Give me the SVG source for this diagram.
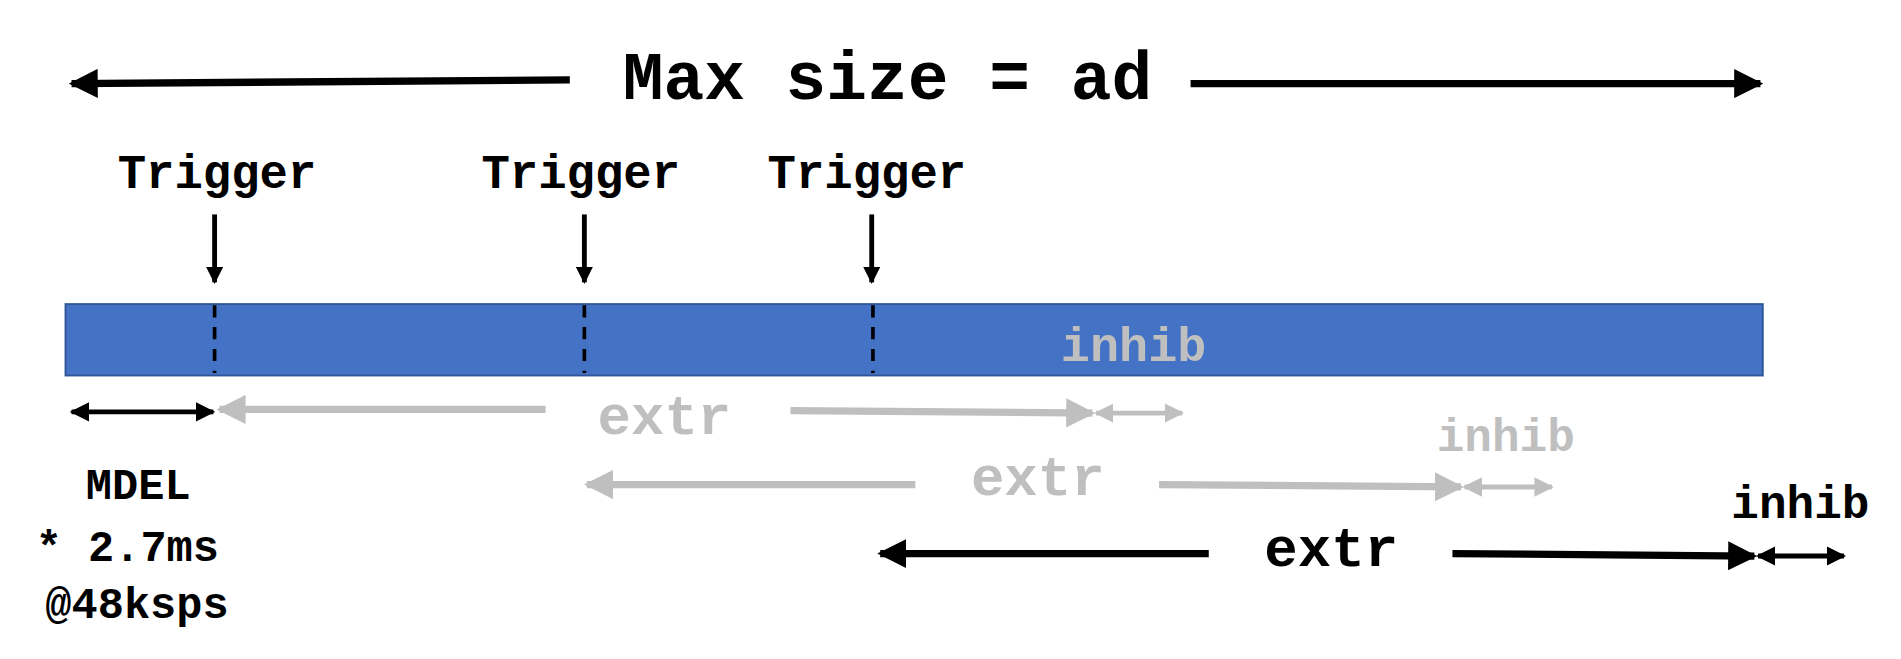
<svg xmlns="http://www.w3.org/2000/svg" width="1901" height="659" viewBox="0 0 1901 659">
<style>
.t{font-family:"Liberation Mono","DejaVu Sans Mono",monospace;font-weight:bold;text-anchor:middle}
.k{stroke:#000;fill:none}
.g{stroke:#bfbfbf;fill:none}
</style>
<defs>
<marker id="ak" viewBox="0 0 10 10" refX="9" refY="5" markerWidth="4" markerHeight="4" orient="auto-start-reverse" markerUnits="strokeWidth"><path d="M0,0L10,5L0,10z" fill="#000"/></marker>
<marker id="ag" viewBox="0 0 10 10" refX="9" refY="5" markerWidth="4" markerHeight="4" orient="auto-start-reverse" markerUnits="strokeWidth"><path d="M0,0L10,5L0,10z" fill="#bfbfbf"/></marker>
<marker id="at" viewBox="0 0 10 10" refX="9" refY="5" markerWidth="3.5" markerHeight="3.5" orient="auto" markerUnits="strokeWidth"><path d="M0,0L10,5L0,10z" fill="#000"/></marker>
</defs>
<rect width="1901" height="659" fill="#fff"/>
<g transform="scale(1.2124,1.2114)">
<g id="bar">
<rect x="54" y="251" width="1400" height="59" fill="#4472c4" stroke="#2f5597" stroke-width="1.5"/>
<path d="M177,252V308M482,252V308M720,252V308" stroke="#000" stroke-width="3" stroke-dasharray="10,8"/>
<text class="t" x="935" y="298" font-size="40" fill="#bfbfbf">inhib</text>
</g>
<g id="title"><text class="t" x="732" y="82" font-size="56">Max size = ad</text></g>
<g id="triggers">
<text class="t" x="179" y="155" font-size="39">Trigger</text>
<text class="t" x="479" y="155" font-size="39">Trigger</text>
<text class="t" x="715" y="155" font-size="39">Trigger</text>
</g>
<g id="labels">
<text class="t" x="548" y="358" font-size="46" fill="#bfbfbf">extr</text>
<text class="t" x="1242" y="372" font-size="38" fill="#bfbfbf">inhib</text>
<text class="t" x="856" y="409" font-size="46" fill="#bfbfbf">extr</text>
<text class="t" x="1485" y="428" font-size="38">inhib</text>
<text class="t" x="1098" y="467" font-size="46">extr</text>
<text class="t" x="114" y="412" font-size="36">MDEL</text>
<text class="t" x="105" y="463" font-size="36">* 2.7ms</text>
<text class="t" x="113" y="510" font-size="36">@48ksps</text>
</g>
<g id="connectors">
<path class="k" stroke-width="6" d="M470,66L59,69" marker-end="url(#ak)"/>
<path class="k" stroke-width="6" d="M982,69H1452" marker-end="url(#ak)"/>
<path class="k" stroke-width="4" d="M177,177V233" marker-end="url(#at)"/>
<path class="k" stroke-width="4" d="M482,177V233" marker-end="url(#at)"/>
<path class="k" stroke-width="4" d="M719,177V233" marker-end="url(#at)"/>
<path class="k" stroke-width="4" d="M59,340H176" marker-start="url(#ak)" marker-end="url(#ak)"/>
<path class="g" stroke-width="6" d="M450,338H181" marker-end="url(#ag)"/>
<path class="g" stroke-width="6" d="M652,339L901,341" marker-end="url(#ag)"/>
<path class="g" stroke-width="4" d="M904,341H975" marker-start="url(#ag)" marker-end="url(#ag)"/>
<path class="g" stroke-width="6" d="M755,400H484" marker-end="url(#ag)"/>
<path class="g" stroke-width="6" d="M956,400L1205,402" marker-end="url(#ag)"/>
<path class="g" stroke-width="4" d="M1208,402H1280" marker-start="url(#ag)" marker-end="url(#ag)"/>
<path class="k" stroke-width="6" d="M997,457H726" marker-end="url(#ak)"/>
<path class="k" stroke-width="6" d="M1198,457L1447,459" marker-end="url(#ak)"/>
<path class="k" stroke-width="4" d="M1450,459H1521" marker-start="url(#ak)" marker-end="url(#ak)"/>
</g>
</g>
</svg>
